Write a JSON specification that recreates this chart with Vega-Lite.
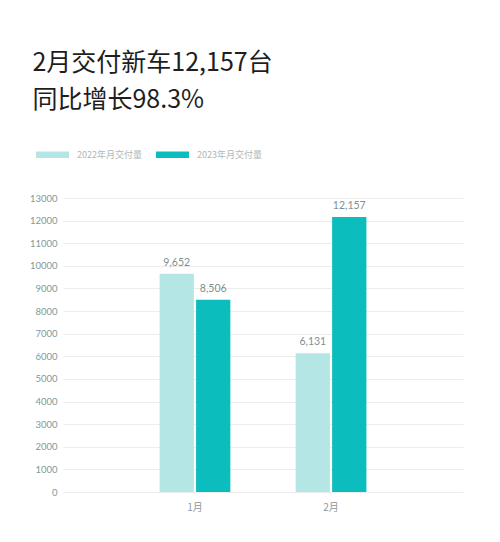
{
  "$schema": "https://vega.github.io/schema/vega-lite/v6.json",
  "width": 400,
  "height": 294,
  "autosize": {"type": "none"},
  "padding": {"left": 63, "top": 198, "right": 37, "bottom": 50},
  "background": "#ffffff",
  "title": {
    "text": ["2月交付新车12,157台", "同比增长98.3%"],
    "anchor": "start",
    "frame": "bounds",
    "dx": 3,
    "fontSize": 25,
    "fontWeight": "normal",
    "lineHeight": 37,
    "color": "#1e1e1e",
    "font": "Noto Sans CJK SC",
    "offset": 25
  },
  "data": {
    "values": [
      {"month": "1月", "series": "2022年月交付量", "value": 9652},
      {"month": "1月", "series": "2023年月交付量", "value": 8506},
      {"month": "2月", "series": "2022年月交付量", "value": 6131},
      {"month": "2月", "series": "2023年月交付量", "value": 12157}
    ]
  },
  "encoding": {
    "x": {
      "field": "month",
      "type": "nominal",
      "scale": {"paddingInner": 0.48, "paddingOuter": 0.71},
      "axis": {"title": null, "labelAngle": 0, "domain": false, "ticks": false, "labelPadding": 10, "labelColor": "#8c9a9a", "labelFontSize": 10, "labelFont": "Noto Sans CJK SC"}
    },
    "xOffset": {"field": "series", "type": "nominal", "scale": {"paddingInner": 0.06}},
    "y": {
      "field": "value",
      "type": "quantitative",
      "scale": {"domain": [0, 13000], "nice": false},
      "axis": {"title": null, "tickCount": 13, "domain": false, "ticks": false, "labelPadding": 6, "labelColor": "#7e9a98", "labelFontSize": 9.5, "labelFont": "Lato", "gridColor": "#ececec", "format": "d"}
    }
  },
  "layer": [
    {
      "mark": {"type": "bar"},
      "encoding": {
        "color": {
          "field": "series",
          "type": "nominal",
          "scale": {"domain": ["2022年月交付量", "2023年月交付量"], "range": ["#b4e6e5", "#0bbdbc"]},
          "legend": {
            "title": null,
            "orient": "none",
            "legendX": -27,
            "legendY": -60,
            "direction": "horizontal",
            "symbolType": "M-1,-0.2H1V0.2H-1Z",
            "symbolSize": 1089,
            "symbolStrokeWidth": 0,
            "labelColor": "#b0b8b8",
            "labelFontSize": 9,
            "labelFont": "Noto Sans CJK SC",
            "labelOffset": 8,
            "columnPadding": 14
          }
        }
      }
    },
    {
      "mark": {"type": "text", "dy": -11, "fontSize": 10.5, "color": "#7f8f8f", "font": "Lato"},
      "encoding": {
        "text": {"field": "value", "type": "quantitative", "format": ","}
      }
    }
  ],
  "config": {
    "view": {"stroke": null}
  }
}
